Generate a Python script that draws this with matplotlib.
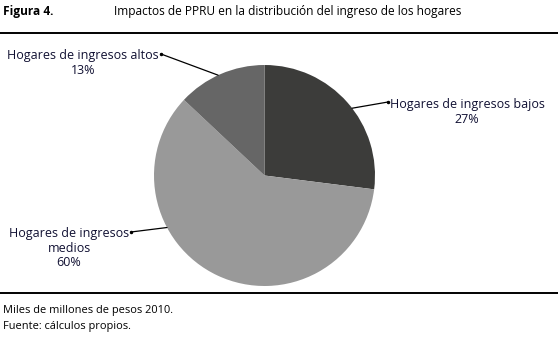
import numpy as np
import matplotlib
matplotlib.use("Agg")
import matplotlib.pyplot as plt
from matplotlib.lines import Line2D

# ── data ─────────────────────────────────────────────────────────────────────
categories = ["Hogares de ingresos bajos", "Hogares de ingresos medios",
              "Hogares de ingresos altos"]
shares = [27, 60, 13]
label_text = ["Hogares de ingresos bajos\n27%",
              "Hogares de ingresos\nmedios\n60%",
              "Hogares de ingresos altos\n13%"]
title_num = "Figura 4."
title_txt = "Impactos de PPRU en la distribución del ingreso de los hogares"
notes = ["Miles de millones de pesos 2010.", "Fuente: cálculos propios."]

colors = ["#3c3c3a", "#999999", "#666666"]
W, H = 558, 337
plt.rcParams["font.family"] = ["Open Sans", "DejaVu Sans"]

fig = plt.figure(figsize=(W / 100, H / 100), dpi=100)

# pie axes: centre (264.5, 175.5) px, radius 110.5 px
cx, cy, r = 264.5, 175.5, 110.5
ax = fig.add_axes([(cx - r) / W, (H - cy - r) / H, 2 * r / W, 2 * r / H])
wedges, _ = ax.pie(shares, colors=colors, startangle=90, counterclock=False,
                   radius=1, wedgeprops=dict(linewidth=0))
ax.set_xlim(-1, 1)
ax.set_ylim(-1, 1)
ax.set_aspect("equal")
ax.axis("off")

# label placement (pixel coords of text centre / line start, anchor angle)
text_pos = [(467, 112), (69, 248), (83, 63)]
line_start = [(388, 102), (131, 232), (161, 54)]
anchor_frac = [0.46, 0.33, 0.53]   # where along each wedge the line lands


def px2data(px, py):
    return (px - cx) / r, (cy - py) / r


for w, txt, tp, ls, f in zip(wedges, label_text, text_pos, line_start,
                             anchor_frac):
    theta = np.deg2rad(w.theta1 + f * (w.theta2 - w.theta1))
    edge = (np.cos(theta), np.sin(theta))
    tx, ty = px2data(*tp)
    ax.text(tx, ty, txt, ha="center", va="center", fontsize=9,
            color="#111133", linespacing=1.15, clip_on=False)
    sx, sy = px2data(*ls)
    ax.annotate("", xy=edge, xytext=(sx, sy),
                arrowprops=dict(arrowstyle="-", color="black", lw=0.9,
                                shrinkA=0, shrinkB=0),
                annotation_clip=False)
    ax.plot([sx], [sy], marker="o", ms=1.5, color="black", clip_on=False)

# header, rules, footer
fig.text(3 / W, 1 - 12 / H, title_num, fontsize=8.6, fontweight="bold",
         va="center", ha="left")
fig.text(114 / W, 1 - 12 / H, title_txt, fontsize=8.6, va="center",
         ha="left")
for yy in (33, 293):
    fig.add_artist(Line2D([0, 1], [1 - yy / H] * 2, color="black", lw=1.4,
                          transform=fig.transFigure))
for i, note in enumerate(notes):
    fig.text(3 / W, 1 - (310 + 16 * i) / H, note, fontsize=7.9,
             va="center", ha="left")

fig.savefig("out.png", dpi=100)
